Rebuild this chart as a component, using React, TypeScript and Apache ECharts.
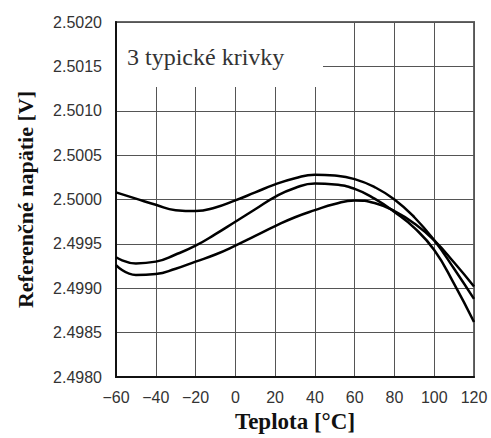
import React, { useEffect, useRef } from "react";
import * as echarts from "echarts";

const temps = [-60, -50, -40, -30, -20, -10, 0, 10, 20, 30, 40, 50, 60, 70, 80, 90, 100, 110, 120];
const curveA = [2.50008, 2.50001, 2.49994, 2.49988, 2.49987, 2.49991, 2.49999, 2.50008, 2.50017, 2.50024, 2.50028, 2.50027, 2.50023, 2.50014, 2.5, 2.4998, 2.49954, 2.49922, 2.49888];
const curveB = [2.49935, 2.49928, 2.4993, 2.49938, 2.49948, 2.49961, 2.49975, 2.49989, 2.50003, 2.50013, 2.50018, 2.50017, 2.50012, 2.50001, 2.49986, 2.49968, 2.49943, 2.49905, 2.49862];
const curveC = [2.49926, 2.49915, 2.49916, 2.49922, 2.4993, 2.49938, 2.49948, 2.49959, 2.4997, 2.4998, 2.49988, 2.49995, 2.49999, 2.49996, 2.49987, 2.49973, 2.49954, 2.49929, 2.49902];
const annotation = "3 typické krivky";
const xTitle = "Teplota [°C]";
const yTitle = "Referenčné napätie [V]";

export default function App() {
  const ref = useRef<HTMLDivElement>(null);
  useEffect(() => {
    if (!ref.current) return;
    const chart = echarts.init(ref.current, undefined, { renderer: "svg" });
    const mk = (vals: number[]) => ({
      type: "line",
      smooth: 0.5,
      showSymbol: false,
      data: temps.map((t, i) => [t, vals[i]]),
      lineStyle: { color: "#000", width: 2.5 },
      z: 5,
    });
    chart.setOption({
      animation: false,
      backgroundColor: "#fff",
      grid: { left: 116, top: 22, right: 17, bottom: 59, show: true, borderColor: "#666", borderWidth: 2, backgroundColor: "transparent" },
      xAxis: {
        type: "value",
        min: -60,
        max: 120,
        interval: 20,
        name: xTitle,
        nameLocation: "middle",
        nameGap: 33,
        nameTextStyle: { fontFamily: "Liberation Serif", fontWeight: "bold", fontSize: 23, color: "#111" },
        axisLine: { show: true, onZero: false, lineStyle: { color: "#111", width: 2 } },
        axisTick: { show: false },
        axisLabel: {
          fontFamily: "Liberation Sans",
          fontSize: 16,
          color: "#333",
          margin: 12,
          formatter: (v: number) => (v < 0 ? "\u2212" + Math.abs(v) : String(v)),
        },
        splitLine: { show: true, lineStyle: { color: "#555", width: 1 } },
      },
      yAxis: {
        type: "value",
        min: 2.498,
        max: 2.502,
        interval: 0.0005,
        name: yTitle,
        nameLocation: "middle",
        nameGap: 80,
        nameTextStyle: { fontFamily: "Liberation Serif", fontWeight: "bold", fontSize: 22, color: "#111" },
        axisLine: { show: true, onZero: false, lineStyle: { color: "#111", width: 2 } },
        axisTick: { show: false },
        axisLabel: {
          fontFamily: "Liberation Sans",
          fontSize: 16,
          color: "#333",
          margin: 14,
          formatter: (v: number) => v.toFixed(4),
        },
        splitLine: { show: true, lineStyle: { color: "#555", width: 1 } },
      },
      graphic: [
        {
          type: "rect",
          z: 100,
          shape: { x: 117, y: 23, width: 206, height: 64 },
          style: { fill: "#fff" },
        },
        {
          type: "text",
          z: 101,
          x: 127,
          y: 57,
          style: {
            text: annotation,
            font: "24px 'Liberation Serif'",
            fill: "#333",
            verticalAlign: "middle",
          },
        },
      ],
      series: [mk(curveA), mk(curveB), mk(curveC)],
    });
    return () => chart.dispose();
  }, []);
  return <div ref={ref} style={{ position: "fixed", left: 0, top: 0, width: 491, height: 438 }} />;
}
